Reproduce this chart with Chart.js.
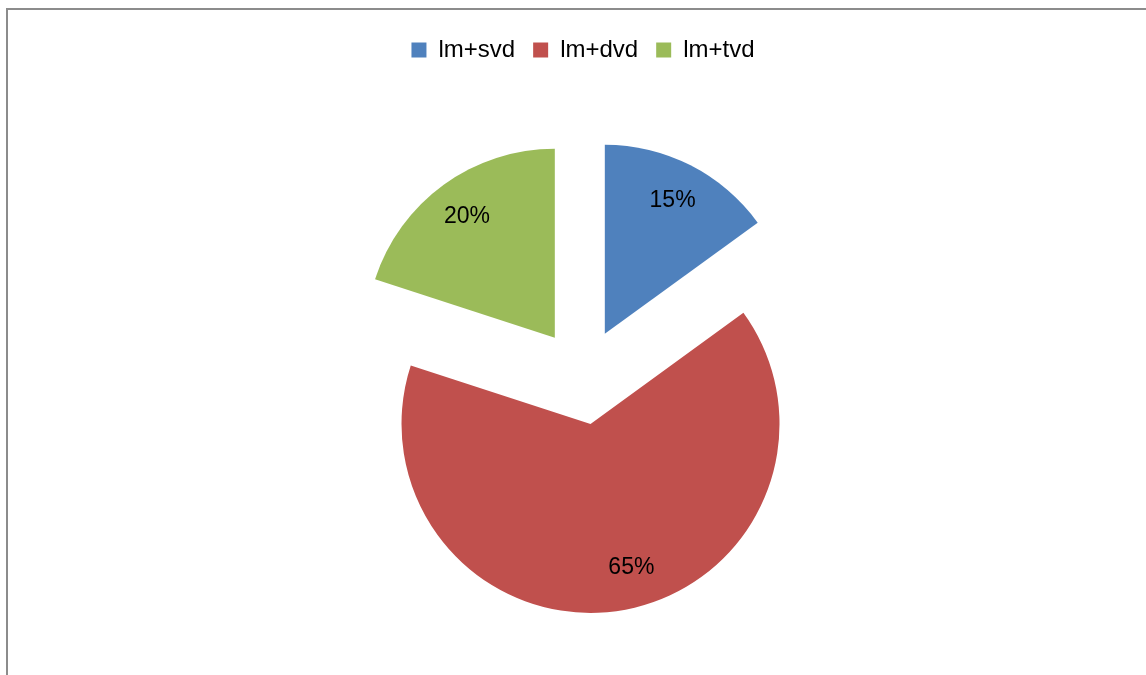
<!DOCTYPE html>
<html>
<head>
<meta charset="utf-8">
<title>lm pie</title>
<script src="https://cdn.jsdelivr.net/npm/chart.js@4/dist/chart.umd.min.js"></script>
<style>
  html, body { margin: 0; padding: 0; background: #fff; overflow: hidden; }
  #wrap { position: relative; width: 1146px; height: 681px; }
</style>
</head>
<body>
<div id="wrap"><canvas id="pie"></canvas></div>
<script>
const categories = ['lm+svd', 'lm+dvd', 'lm+tvd']
const shares = [15, 65, 20]
const sliceColors = ['#4F81BD', '#C0504D', '#9BBB59']

const FONT = '"Liberation Sans", Arial, sans-serif'

// pie slice that is pushed out along its mid angle without growing
class ExplodedArc extends Chart.ArcElement {
  static id = 'explodedArc'

  draw(ctx) {
    const {x, y, startAngle, endAngle, outerRadius, options} = this
    const mid = (startAngle + endAngle) / 2
    const shift = options.offset || 0
    ctx.save()
    ctx.translate(Math.cos(mid) * shift, Math.sin(mid) * shift)
    ctx.beginPath()
    ctx.moveTo(x, y)
    ctx.arc(x, y, outerRadius, startAngle, endAngle)
    ctx.closePath()
    ctx.fillStyle = options.backgroundColor
    ctx.fill()
    ctx.restore()
  }
}

class ExplodedPie extends Chart.PieController {
  static id = 'explodedPie'
  static defaults = {dataElementType: 'explodedArc'}
}

Chart.register(ExplodedArc, ExplodedPie)

// thin grey frame, only top and left edges are inside the canvas
const frame = {
  id: 'frame',
  beforeDraw(chart) {
    const ctx = chart.ctx
    ctx.save()
    ctx.strokeStyle = '#8c8c8c'
    ctx.lineWidth = 2
    ctx.beginPath()
    ctx.moveTo(7, chart.height + 2)
    ctx.lineTo(7, 9)
    ctx.lineTo(chart.width + 2, 9)
    ctx.stroke()
    ctx.restore()
  }
}

// percentage labels inside each slice
const sliceLabels = {
  id: 'sliceLabels',
  afterDatasetsDraw(chart, args, opts) {
    const ctx = chart.ctx
    const meta = chart.getDatasetMeta(0)
    const values = chart.data.datasets[0].data
    const total = values.reduce((a, b) => a + b, 0)
    ctx.save()
    ctx.font = opts.font
    ctx.fillStyle = opts.color
    ctx.textAlign = 'center'
    ctx.textBaseline = 'middle'
    meta.data.forEach((arc, i) => {
      const {x, y, startAngle, endAngle, outerRadius, options} = arc
      const mid = (startAngle + endAngle) / 2
      const a = mid + (opts.angleShift[i] || 0)
      const shift = options.offset || 0
      const ox = x + Math.cos(mid) * shift
      const oy = y + Math.sin(mid) * shift
      const r = outerRadius * opts.position
      const txt = Math.round(values[i] / total * 100) + '%'
      ctx.fillText(txt, ox + Math.cos(a) * r, oy + Math.sin(a) * r)
    })
    ctx.restore()
  }
}

new Chart(document.getElementById('pie'), {
  type: 'explodedPie',
  data: {
    labels: categories,
    datasets: [
      {
        data: shares,
        backgroundColor: sliceColors,
        borderWidth: 0,
        offset: 48,
      },
    ]
  },
  options: {
    responsive: true,
    maintainAspectRatio: false,
    animation: false,
    events: [],
    radius: 189,
    layout: {
      padding: {left: 20, right: 0, top: 20, bottom: 0}
    },
    plugins: {
      legend: {
        position: 'top',
        labels: {
          boxWidth: 15,
          boxHeight: 15,
          padding: 18,
          color: '#000',
          font: {family: FONT, size: 24}
        }
      },
      tooltip: {enabled: false},
      sliceLabels: {
        font: '23px ' + FONT,
        color: '#000',
        position: 0.79,
        angleShift: [0, -0.12, 0]
      }
    }
  },
  plugins: [frame, sliceLabels]
})
</script>
</body>
</html>
